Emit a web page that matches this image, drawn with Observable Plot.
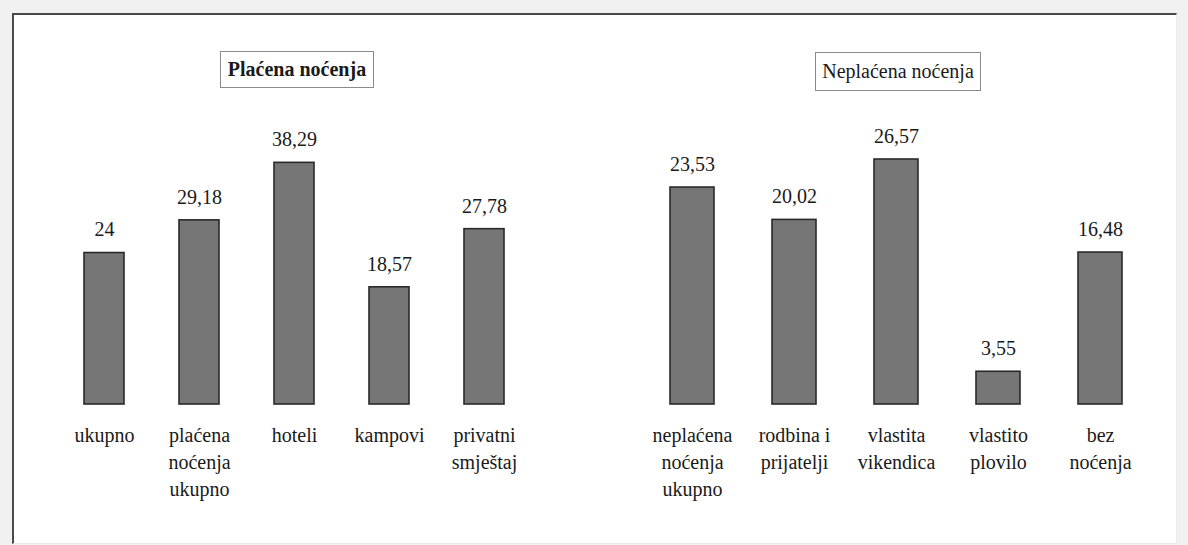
<!DOCTYPE html>
<html>
<head>
<meta charset="utf-8">
<script src="https://cdn.jsdelivr.net/npm/d3@7"></script>
<script src="https://cdn.jsdelivr.net/npm/@observablehq/plot@0.6"></script>
<style>
  html, body { margin: 0; padding: 0; background: #f1f1f1; }
  #page { position: relative; width: 1188px; height: 545px; overflow: hidden; background: #f1f1f1; font-family: "Liberation Serif", "DejaVu Serif", serif; }
  #frame { position: absolute; left: 12px; top: 13px; width: 1162px; height: 528px; background: #fff;
           border-left: 2px solid #4a4a4a; border-top: 2px solid #4a4a4a; border-right: 1px solid #ececec; border-bottom: 1px solid #ececec; }
  .panel { position: absolute; top: 0; }
  .ttl { position: absolute; border: 1px solid #8a8a8a; background: #fff; font-size: 20px; color: #1a1a1a;
         display: flex; align-items: center; justify-content: center; box-sizing: border-box; }
</style>
</head>
<body>
<div id="page">
  <div id="frame"></div>
  <div id="left" class="panel" style="left:0px"></div>
  <div id="right" class="panel" style="left:594px"></div>
  <div id="t1" class="ttl" style="left:220px;top:51px;width:154px;height:37px;font-weight:bold;"></div>
  <div id="t2" class="ttl" style="left:815px;top:52px;width:166px;height:39px;"></div>
</div>
<script>
// Panel titles
const titleLeft = "Plaćena noćenja";
const titleRight = "Neplaćena noćenja";

// Left panel: paid overnight stays
const paidCategories = ["ukupno", "plaćena\nnoćenja\nukupno", "hoteli", "kampovi", "privatni\nsmještaj"];
const paidValues = [24, 29.18, 38.29, 18.57, 27.78];

// Right panel: unpaid overnight stays
const unpaidCategories = ["neplaćena\nnoćenja\nukupno", "rodbina i\nprijatelji", "vlastita\nvikendica", "vlastito\nplovilo", "bez\nnoćenja"];
const unpaidValues = [23.53, 20.02, 26.57, 3.55, 16.48];

document.getElementById("t1").textContent = titleLeft;
document.getElementById("t2").textContent = titleRight;

const fmt = v => String(v).replace(".", ",");
const serif = "'Liberation Serif', 'DejaVu Serif', serif";

function panel(categories, values, xRange, pad, yMax) {
  const data = categories.map((c, i) => ({c, v: values[i]}));
  const svg = Plot.plot({
    width: 594,
    height: 545,
    margin: 0,
    style: {background: "transparent", fontSize: "20px", color: "#1a1a1a"},
    x: {domain: categories, range: xRange, paddingInner: pad, paddingOuter: pad / 2, axis: null},
    y: {domain: [0, yMax], range: [404, 120], axis: null},
    marks: [
      Plot.barY(data, {x: "c", y: "v", fill: "#767676", stroke: "#2a2a2a", strokeWidth: 1.6}),
      Plot.text(data, {x: "c", y: "v", text: d => fmt(d.v), dy: -23, fontSize: 20, fill: "#1a1a1a"}),
      Plot.text(data, {x: "c", y: () => 0, text: "c", lineAnchor: "top", dy: 18, lineHeight: 1.35, fontSize: 20, fill: "#1a1a1a"})
    ]
  });
  d3.select(svg).attr("font-family", serif).style("font-family", serif);
  d3.select(svg).selectAll("g, text, tspan").attr("font-family", null).style("font-family", serif);
  return svg;
}

document.getElementById("left").append(panel(paidCategories, paidValues, [56, 531.5], 0.58, 45));
document.getElementById("right").append(panel(unpaidCategories, unpaidValues, [45.25, 557.75], 0.57, 30.8));
</script>
</body>
</html>
